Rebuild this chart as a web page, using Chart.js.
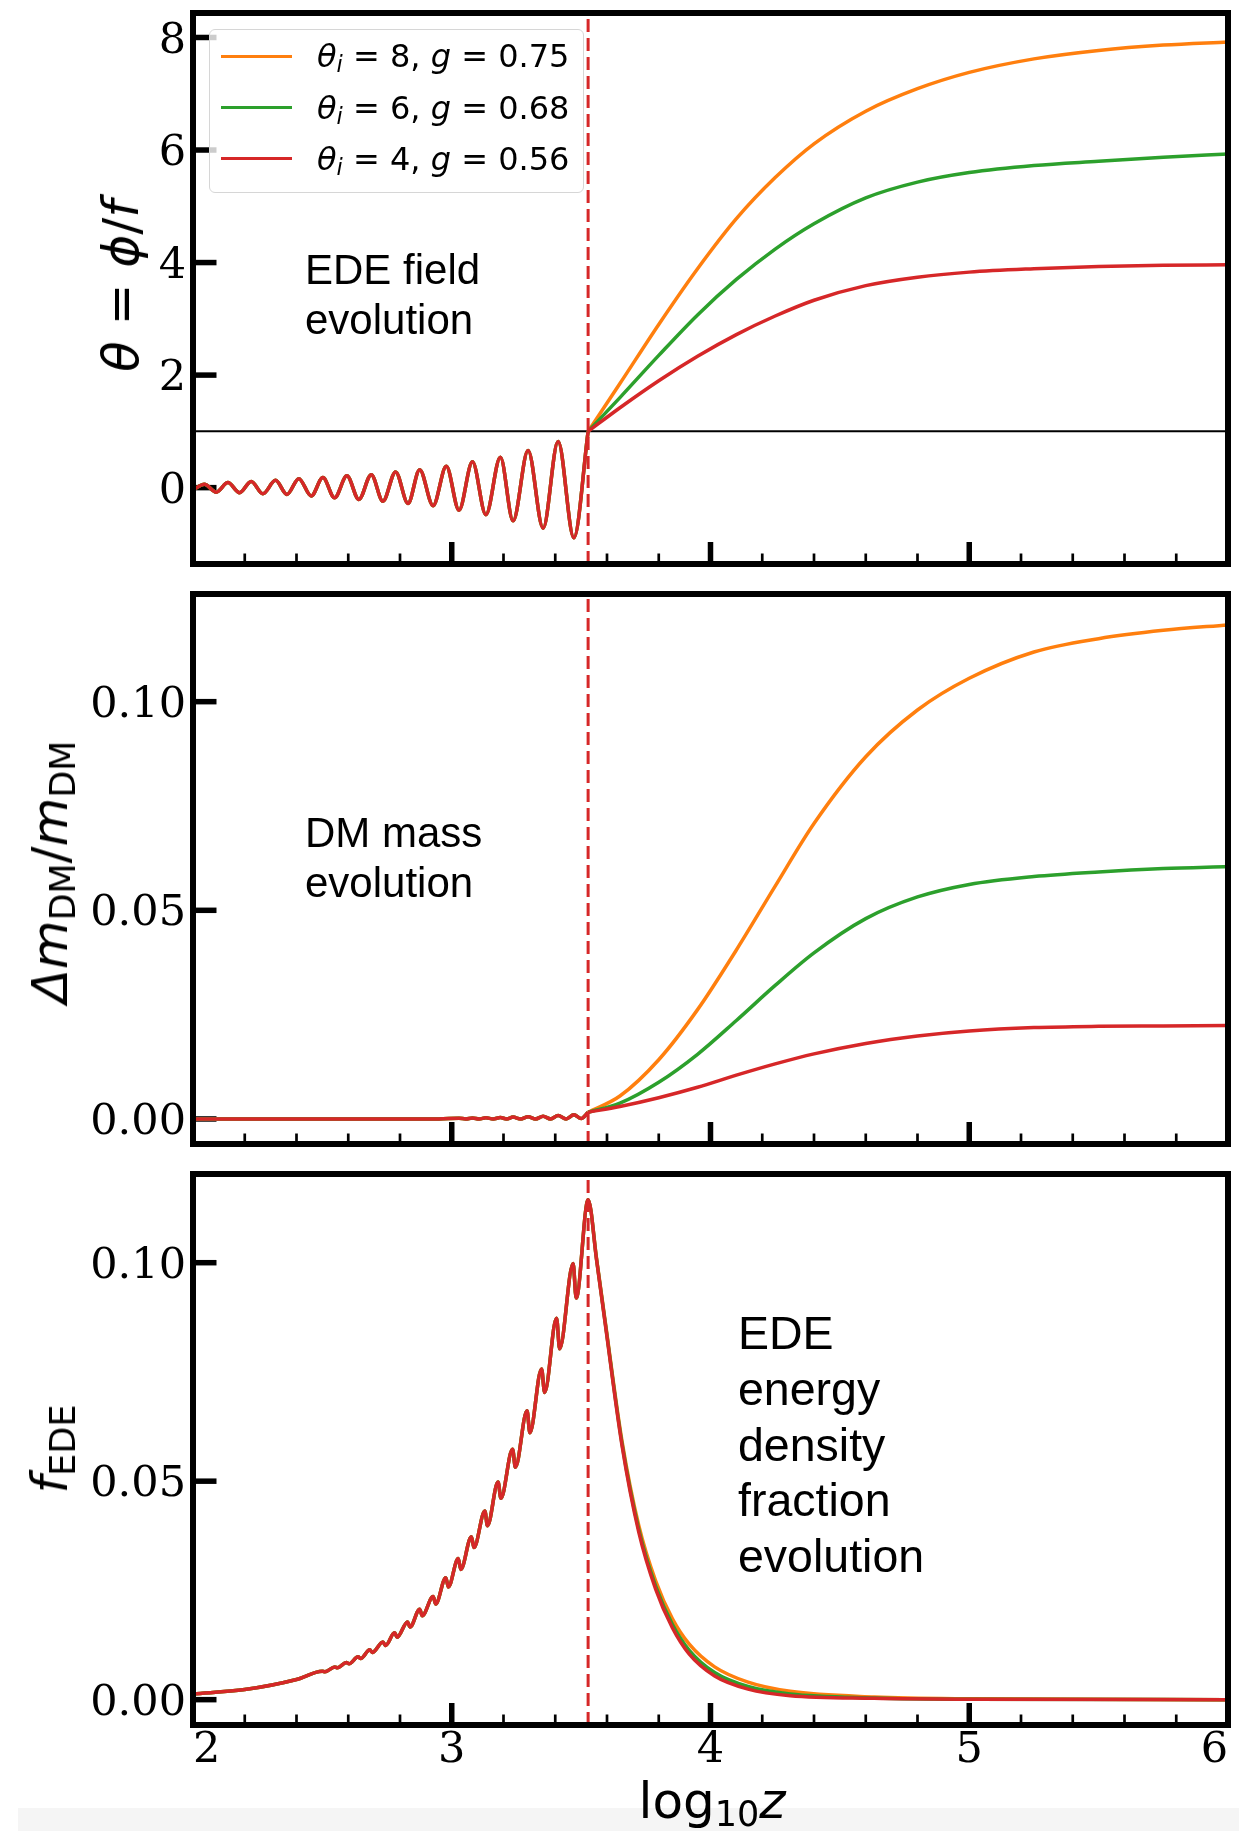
<!DOCTYPE html>
<html lang="en">
<head>
<meta charset="UTF-8">
<title>EDE field, DM mass and EDE fraction evolution</title>
<script src="https://cdn.jsdelivr.net/npm/chart.js@4.4.1/dist/chart.umd.min.js"></script>
<style>
  html, body { margin: 0; padding: 0; background: #fff; }
  #fig { position: relative; width: 1239px; height: 1831px; overflow: hidden; }
  canvas { position: absolute; left: 0; }
  .strip { position: absolute; left: 18px; top: 1808px; width: 1221px; height: 23px; background: #f5f5f5; }
  .ylab, .xlab { position: absolute; font-family: 'DejaVu Sans', sans-serif; font-size: 50px; line-height: 1; white-space: nowrap; color: #000; }
  .ylab { transform: translate(-50%, -50%) rotate(-90deg); }
  .xlab { left: 712px; top: 1776px; transform: translateX(-50%); }
  sub { font-size: 0.7em; vertical-align: -0.22em; line-height: 0; }
  .note { position: absolute; font-family: 'Liberation Sans', Arial, sans-serif; font-size: 42px; line-height: 50px; color: #000; white-space: nowrap; }
  .note.big { font-size: 46.5px; line-height: 55.8px; }
  #legend { position: absolute; left: 209px; top: 29px; width: 375px; height: 164px; box-sizing: border-box;
            border: 1.5px solid #d6d6d6; border-radius: 6px; background: rgba(255,255,255,0.8); }
  .lrow { position: absolute; left: 0; height: 0; }
  .swatch { position: absolute; left: 11px; top: -1.5px; width: 71px; height: 3px; }
  .ltext { position: absolute; left: 107px; top: 0; transform: translateY(-50%); font-family: 'DejaVu Sans', sans-serif;
           font-size: 32px; line-height: 1; white-space: nowrap; color: #000; }
</style>
</head>
<body>
<div id="fig">
  <div class="strip"></div>
  <canvas id="c1" width="1239" height="579" style="top:0px"></canvas>
  <canvas id="c2" width="1239" height="580" style="top:579px"></canvas>
  <canvas id="c3" width="1239" height="672" style="top:1159px"></canvas>

  <div class="ylab" style="left:121px;top:286px"><i>θ</i> = <i>ϕ</i>/<i>f</i></div>
  <div class="ylab" style="left:50px;top:872px"><i>Δm</i><sub>DM</sub>/<i>m</i><sub>DM</sub></div>
  <div class="ylab" style="left:50px;top:1449px"><i>f</i><sub>EDE</sub></div>
  <div class="xlab">log<sub>10</sub><i>z</i></div>

  <div class="note" style="left:305px;top:245px">EDE field<br>evolution</div>
  <div class="note" style="left:305px;top:808px">DM mass<br>evolution</div>
  <div class="note big" style="left:738px;top:1306px">EDE<br>energy<br>density<br>fraction<br>evolution</div>

  <div id="legend"></div>
</div>

<script>
// log10 z axis, shared by the three panels
const xTickValues = [2, 2.2, 2.4, 2.6, 2.8, 3, 3.2, 3.4, 3.6, 3.8, 4, 4.2, 4.4, 4.6, 4.8, 5, 5.2, 5.4, 5.6, 5.8, 6];
const xLabelValues = [2, 3, 4, 5, 6];
const zcLog = 3.527;   // dashed line, critical redshift

// series: theta_i and g
const seriesTheta = [8, 6, 4];
const seriesG = ['0.75', '0.68', '0.56'];
const seriesColors = ['#ff7f0e', '#2ca02c', '#d62728'];

// panel 1: theta = phi/f  (oscillation below z_c is the same for all three)
const thetaTicks = [0, 2, 4, 6, 8];
const thetaOscX = [2.000, 2.044, 2.090, 2.135, 2.180, 2.225, 2.270, 2.319, 2.363, 2.409, 2.457, 2.502, 2.547, 2.595, 2.641, 2.689,
                   2.734, 2.783, 2.831, 2.876, 2.928, 2.979, 3.028, 3.080, 3.132, 3.188, 3.237, 3.295, 3.353, 3.411, 3.472];
const thetaOscY = [-0.04, 0.06, -0.08, 0.09, -0.09, 0.11, -0.11, 0.13, -0.12, 0.16, -0.15, 0.18, -0.18, 0.21, -0.21, 0.23,
                   -0.24, 0.28, -0.28, 0.32, -0.32, 0.38, -0.40, 0.46, -0.48, 0.54, -0.59, 0.66, -0.72, 0.82, -0.89];
const thetaRiseX = [3.527, 3.65, 3.80, 3.95, 4.10, 4.25, 4.40, 4.60, 4.80, 5.00, 5.25, 5.50, 5.75, 6.00];
const theta8Rise = [1.00, 1.85, 2.90, 3.89, 4.78, 5.51, 6.11, 6.69, 7.09, 7.38, 7.62, 7.77, 7.865, 7.92];
const theta6Rise = [1.00, 1.60, 2.35, 3.07, 3.70, 4.24, 4.69, 5.15, 5.43, 5.60, 5.725, 5.80, 5.87, 5.93];
const theta4Rise = [1.00, 1.42, 1.90, 2.335, 2.72, 3.05, 3.33, 3.59, 3.74, 3.83, 3.89, 3.93, 3.95, 3.96];

// panel 2: delta m_DM / m_DM
const dmTicks = [0, 0.05, 0.10];
const dmPreX = [2.00, 2.95, 3.028, 3.054, 3.080, 3.106, 3.132, 3.160, 3.188, 3.212, 3.237, 3.266, 3.295, 3.324, 3.353, 3.382, 3.411, 3.442, 3.472, 3.500];
const dmPreY = [0, 0, 0.0002, 0, 0.00025, 0, 0.0003, 0, 0.00035, 0, 0.00045, 0, 0.00055, 0, 0.00065, 0, 0.0008, 0, 0.0010, 0.0001];
const dmRiseX = [3.527, 3.65, 3.80, 3.95, 4.10, 4.25, 4.40, 4.60, 4.80, 5.00, 5.25, 5.50, 5.75, 6.00];
const dm8Rise = [0.0016, 0.0055, 0.0142, 0.0262, 0.0405, 0.0558, 0.0708, 0.0868, 0.0980, 0.1056, 0.1119, 0.1151, 0.1171, 0.1184];
const dm6Rise = [0.0016, 0.0038, 0.0088, 0.0155, 0.0236, 0.0320, 0.0398, 0.0480, 0.0532, 0.0562, 0.0581, 0.0592, 0.0600, 0.0605];
const dm4Rise = [0.0016, 0.0030, 0.0051, 0.0076, 0.0105, 0.0132, 0.0156, 0.0181, 0.0199, 0.0211, 0.0219, 0.0222, 0.0223, 0.0224];

// panel 3: f_EDE
const fTicks = [0, 0.05, 0.10];
const fPreX = [2.000, 2.200, 2.400, 2.500, 2.510, 2.548, 2.558, 2.593, 2.603, 2.638, 2.648, 2.683, 2.693, 2.734, 2.744, 2.779, 2.789,
               2.829, 2.839, 2.876, 2.886, 2.928, 2.938, 2.977, 2.987, 3.025, 3.035, 3.076, 3.086, 3.128, 3.138, 3.179, 3.190,
               3.235, 3.246, 3.291, 3.302, 3.347, 3.359, 3.405, 3.417, 3.469, 3.481, 3.527];
const fPreY = [0.0013, 0.0023, 0.0046, 0.0065, 0.0064, 0.0075, 0.0073, 0.0085, 0.0082, 0.0098, 0.0094, 0.0114, 0.0108, 0.0132, 0.0124, 0.0153, 0.0143,
               0.0178, 0.0166, 0.0207, 0.0192, 0.0236, 0.0219, 0.0279, 0.0258, 0.0323, 0.0298, 0.0373, 0.0348, 0.0432, 0.0398, 0.0498, 0.0461,
               0.0573, 0.0532, 0.0661, 0.0611, 0.0757, 0.0703, 0.0873, 0.0803, 0.0998, 0.0919, 0.1144];
const fPostX = [3.560, 3.593, 3.658, 3.723, 3.788, 3.853, 3.918, 4.016, 4.145, 4.308, 4.633, 5.000, 6.000];
const f8Post = [0.1008, 0.0866, 0.0592, 0.0398, 0.0272, 0.0185, 0.0127, 0.0075, 0.0040, 0.0019, 0.0006, 0.0002, 0.0000];
const f6Post = [0.1006, 0.0863, 0.0586, 0.0389, 0.0260, 0.0172, 0.0113, 0.0062, 0.0030, 0.0013, 0.0004, 0.0001, 0.0000];
const f4Post = [0.1005, 0.0861, 0.0582, 0.0383, 0.0253, 0.0164, 0.0104, 0.0054, 0.0024, 0.0009, 0.0003, 0.0001, 0.0000];

function pts(xs, ys) {
  return xs.map((x, i) => ({ x: x, y: ys[i] }));
}

function curve(i, data) {
  return {
    data: data,
    borderColor: seriesColors[i],
    borderWidth: 3.5,
    cubicInterpolationMode: 'monotone',
    order: 3 - i          // red on top, orange at the bottom
  };
}

// the part before z_c and the part after are drawn as two pieces,
// so the slope at z_c is not averaged across the kink
function split(i, preX, preY, postX, postY) {
  const pre = pts(preX, preY).concat([{ x: postX[0], y: postY[0] }]);
  return [curve(i, pre), curve(i, pts(postX, postY))];
}

function zcLine(yMin, yMax) {
  return {
    data: [{ x: zcLog, y: yMin }, { x: zcLog, y: yMax }],
    borderColor: '#d62728',
    borderWidth: 3,
    borderDash: [13, 6],
    tension: 0,
    cubicInterpolationMode: 'default',
    order: 0
  };
}

// frame and inward ticks, matplotlib style
const axesFrame = {
  id: 'axesFrame',
  beforeDatasetsDraw(chart) {
    const { ctx, chartArea: a, scales: { x, y } } = chart;
    ctx.save();
    ctx.strokeStyle = '#000';
    x.ticks.forEach(t => {
      const px = x.getPixelForValue(t.value);
      const major = xLabelValues.includes(t.value);
      ctx.lineWidth = major ? 5.5 : 2.7;
      ctx.beginPath();
      ctx.moveTo(px, a.bottom);
      ctx.lineTo(px, a.bottom - (major ? 22 : 10.5));
      ctx.stroke();
    });
    ctx.lineWidth = 5.5;
    y.ticks.forEach(t => {
      const py = y.getPixelForValue(t.value);
      ctx.beginPath();
      ctx.moveTo(a.left, py);
      ctx.lineTo(a.left + 23.5, py);
      ctx.stroke();
    });
    ctx.restore();
  },
  afterDatasetsDraw(chart) {
    const { ctx, chartArea: a } = chart;
    ctx.save();
    ctx.strokeStyle = '#000';
    ctx.lineWidth = 6;
    ctx.strokeRect(a.left, a.top, a.right - a.left, a.bottom - a.top);
    ctx.restore();
  }
};

const tickFont = { family: 'DejaVu Serif', size: 43 };

function panel(id, cfg) {
  return new Chart(document.getElementById(id), {
    type: 'line',
    data: { datasets: cfg.datasets },
    options: {
      responsive: false,
      animation: false,
      events: [],
      layout: { padding: { left: 0, right: 11, top: cfg.padTop, bottom: 0 } },
      plugins: { legend: { display: false }, tooltip: { enabled: false } },
      elements: { point: { radius: 0 } },
      scales: {
        x: {
          type: 'linear', min: 2, max: 6,
          grid: { display: false, drawTicks: false },
          border: { display: false },
          afterBuildTicks: s => { s.ticks = xTickValues.map(v => ({ value: v })); },
          afterFit: s => { s.height = cfg.xHeight; s.paddingLeft = 0; s.paddingRight = 0; },
          ticks: {
            display: cfg.showX, autoSkip: false, maxRotation: 0, minRotation: 0,
            align: 'inner', padding: 0, color: '#000', font: tickFont,
            callback: v => xLabelValues.includes(v) ? String(v) : ''
          }
        },
        y: {
          type: 'linear', min: cfg.yMin, max: cfg.yMax,
          grid: { display: false, drawTicks: false },
          border: { display: false },
          afterBuildTicks: s => { s.ticks = cfg.yTicks.map(v => ({ value: v })); },
          afterFit: s => { s.width = 193; s.paddingTop = 0; s.paddingBottom = 0; },
          ticks: { padding: 7, labelOffset: 4, color: '#000', font: tickFont, callback: cfg.yFmt }
        }
      }
    },
    plugins: [axesFrame]
  });
}

// panel 1
const t1min = -1.357, t1max = 8.435;
panel('c1', {
  padTop: 13, xHeight: 15, showX: false,
  yMin: t1min, yMax: t1max, yTicks: thetaTicks, yFmt: v => String(v),
  datasets: [
    zcLine(t1min, t1max),
    ...split(0, thetaOscX, thetaOscY, thetaRiseX, theta8Rise),
    ...split(1, thetaOscX, thetaOscY, thetaRiseX, theta6Rise),
    ...split(2, thetaOscX, thetaOscY, thetaRiseX, theta4Rise),
    { data: [{ x: 2, y: 1 }, { x: 6, y: 1 }], borderColor: '#000', borderWidth: 2,
      tension: 0, cubicInterpolationMode: 'default', order: 4 }
  ]
});

// panel 2
const d2min = -0.0060, d2max = 0.1258;
panel('c2', {
  padTop: 15, xHeight: 15, showX: false,
  yMin: d2min, yMax: d2max, yTicks: dmTicks, yFmt: v => v.toFixed(2),
  datasets: [
    zcLine(d2min, d2max),
    ...split(0, dmPreX, dmPreY, dmRiseX, dm8Rise),
    ...split(1, dmPreX, dmPreY, dmRiseX, dm6Rise),
    ...split(2, dmPreX, dmPreY, dmRiseX, dm4Rise)
  ]
});

// panel 3 (the peak at z_c is smooth, one piece per series)
const f3min = -0.0058, f3max = 0.1203;
panel('c3', {
  padTop: 15, xHeight: 106, showX: true,
  yMin: f3min, yMax: f3max, yTicks: fTicks, yFmt: v => v.toFixed(2),
  datasets: [
    zcLine(f3min, f3max),
    curve(0, pts(fPreX, fPreY).concat(pts(fPostX, f8Post))),
    curve(1, pts(fPreX, fPreY).concat(pts(fPostX, f6Post))),
    curve(2, pts(fPreX, fPreY).concat(pts(fPostX, f4Post)))
  ]
});

// legend
const legendEl = document.getElementById('legend');
seriesTheta.forEach((th, i) => {
  const row = document.createElement('div');
  row.className = 'lrow';
  row.style.top = (26.2 + i * 51.3) + 'px';
  row.innerHTML = '<span class="swatch" style="background:' + seriesColors[i] + '"></span>' +
    '<span class="ltext"><i>θ</i><sub><i>i</i></sub> = ' + th + ', <i>g</i> = ' + seriesG[i] + '</span>';
  legendEl.appendChild(row);
});
</script>
</body>
</html>
